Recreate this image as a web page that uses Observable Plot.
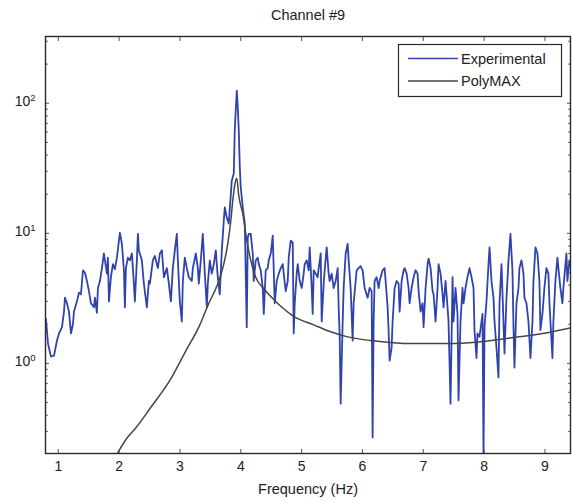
<!DOCTYPE html>
<html><head><meta charset="utf-8">
<script src="https://cdn.jsdelivr.net/npm/d3@7"></script>
<script src="https://cdn.jsdelivr.net/npm/@observablehq/plot@0.6"></script>
<style>
html,body{margin:0;padding:0;background:#fff;}
#chart{width:572px;height:502px;}
</style></head><body><div id="chart"></div>
<script>
const title = "Channel #9";
const xLabel = "Frequency (Hz)";
const seriesNames = ["Experimental", "PolyMAX"];
const xTicks = [1, 2, 3, 4, 5, 6, 7, 8, 9];
const yMajorTicks = [1, 10, 100];
const yMinorTicks = [0.3,0.4,0.5,0.6,0.7,0.8,0.9,2,3,4,5,6,7,8,9,20,30,40,50,60,70,80,90,200,300];
const xDomain = [0.79, 9.42];
const yDomain = [0.203, 326];

// [frequency Hz, amplitude]
const experimental = [[0.798,2.2],[0.831,1.42],[0.880,1.13],[0.930,1.15],[0.979,1.5],[1.012,1.7],[1.061,1.9],[1.094,2.5],[1.110,3.2],[1.143,2.9],[1.176,2.5],[1.209,1.7],[1.241,2.0],[1.258,2.5],[1.307,3.0],[1.340,3.5],[1.373,3.4],[1.406,5.2],[1.438,5.0],[1.471,4.3],[1.504,3.6],[1.537,2.9],[1.586,2.7],[1.603,3.2],[1.635,2.45],[1.652,3.8],[1.685,4.3],[1.718,5.4],[1.750,7.0],[1.767,6.2],[1.800,4.9],[1.816,6.5],[1.833,3.0],[1.865,4.6],[1.898,5.8],[1.931,5.3],[1.964,6.5],[1.997,8.8],[2.013,10.1],[2.046,8.3],[2.079,5.2],[2.095,2.7],[2.112,5.4],[2.144,6.5],[2.177,6.2],[2.210,7.0],[2.243,4.1],[2.259,3.0],[2.292,6.2],[2.309,9.9],[2.325,7.4],[2.374,6.2],[2.407,4.1],[2.456,2.7],[2.489,4.3],[2.506,4.1],[2.555,6.2],[2.588,6.7],[2.637,5.4],[2.670,7.0],[2.703,7.4],[2.736,4.6],[2.785,5.4],[2.818,4.1],[2.851,3.0],[2.883,5.4],[2.916,7.4],[2.949,9.9],[2.966,6.2],[2.998,3.0],[3.031,2.1],[3.048,4.3],[3.080,6.5],[3.113,5.4],[3.146,4.6],[3.195,4.3],[3.212,5.4],[3.261,7.0],[3.294,5.4],[3.310,4.1],[3.343,6.2],[3.376,9.9],[3.409,4.9],[3.442,2.7],[3.458,4.1],[3.491,6.2],[3.524,4.9],[3.557,5.8],[3.589,7.4],[3.622,4.6],[3.655,3.4],[3.688,7.4],[3.721,12.5],[3.737,15.8],[3.770,13.2],[3.803,11.9],[3.852,25.4],[3.885,28.8],[3.901,61.7],[3.934,125],[3.951,92.7],[3.967,61.7],[3.984,32],[4.000,22.5],[4.033,15.8],[4.066,11.9],[4.098,1.9],[4.115,9.3],[4.131,9.9],[4.164,9.9],[4.197,7.0],[4.213,4.3],[4.246,6.2],[4.279,6.5],[4.296,5.8],[4.328,5.2],[4.361,3.8],[4.378,2.4],[4.410,5.2],[4.443,5.4],[4.460,6.2],[4.493,7.0],[4.525,9.6],[4.542,5.2],[4.558,2.9],[4.591,4.3],[4.624,4.9],[4.657,5.4],[4.690,5.8],[4.706,4.9],[4.739,3.6],[4.772,4.3],[4.788,6.5],[4.821,8.8],[4.854,8.5],[4.870,1.7],[4.887,2.9],[4.919,4.9],[4.936,5.8],[4.969,4.3],[5.002,3.8],[5.034,4.9],[5.051,5.8],[5.084,6.2],[5.117,5.2],[5.133,7.8],[5.166,3.8],[5.182,2.4],[5.199,5.2],[5.232,4.9],[5.264,4.6],[5.281,5.4],[5.314,7.0],[5.330,2.1],[5.363,4.1],[5.379,5.2],[5.412,7.8],[5.445,4.9],[5.461,4.3],[5.494,4.9],[5.527,3.8],[5.560,4.3],[5.593,5.4],[5.609,2.7],[5.626,1.6],[5.642,0.49],[5.675,2.1],[5.691,3.8],[5.724,7.0],[5.757,8.3],[5.773,6.2],[5.806,3.8],[5.839,1.5],[5.855,2.9],[5.905,5.2],[5.937,5.4],[5.970,5.6],[6.003,5.2],[6.036,3.8],[6.085,3.2],[6.118,3.8],[6.151,3.6],[6.167,0.27],[6.184,2.1],[6.200,4.3],[6.233,4.6],[6.266,3.8],[6.282,4.3],[6.332,5.2],[6.364,5.4],[6.381,4.3],[6.414,2.7],[6.430,1.8],[6.447,1.05],[6.479,1.32],[6.496,2.1],[6.529,3.8],[6.562,4.3],[6.595,4.1],[6.611,2.5],[6.644,4.3],[6.677,5.2],[6.693,5.4],[6.726,4.9],[6.759,3.8],[6.775,2.9],[6.808,3.8],[6.841,4.6],[6.873,5.2],[6.906,4.9],[6.923,3.6],[6.956,2.5],[6.988,2.9],[7.005,1.9],[7.038,3.8],[7.071,5.8],[7.087,6.4],[7.120,5.4],[7.153,3.6],[7.169,3.4],[7.202,2.1],[7.235,3.8],[7.251,5.8],[7.284,4.9],[7.317,3.4],[7.333,2.7],[7.366,4.3],[7.399,2.7],[7.415,2.1],[7.448,0.49],[7.481,4.6],[7.497,2.1],[7.530,3.8],[7.563,2.4],[7.579,0.52],[7.612,2.1],[7.645,3.8],[7.662,2.9],[7.694,3.8],[7.727,4.6],[7.760,5.4],[7.793,4.6],[7.826,3.8],[7.842,1.8],[7.875,1.1],[7.891,1.7],[7.924,1.6],[7.957,2.1],[7.974,2.4],[7.990,0.19],[8.007,1.9],[8.039,3.0],[8.072,5.8],[8.089,7.8],[8.121,4.3],[8.154,3.2],[8.171,2.1],[8.203,1.32],[8.236,0.78],[8.253,2.9],[8.286,5.8],[8.318,2.1],[8.335,1.19],[8.368,3.2],[8.401,6.2],[8.433,9.9],[8.466,5.2],[8.483,1.9],[8.499,0.93],[8.532,2.9],[8.565,3.8],[8.581,5.4],[8.614,6.2],[8.647,4.9],[8.663,3.2],[8.696,2.9],[8.729,2.1],[8.762,1.1],[8.795,2.1],[8.811,4.3],[8.844,7.8],[8.877,7.0],[8.909,4.3],[8.926,1.8],[8.959,2.4],[8.991,3.8],[9.024,5.4],[9.057,4.9],[9.074,2.9],[9.123,1.1],[9.139,2.1],[9.172,4.3],[9.205,6.5],[9.221,5.4],[9.254,3.8],[9.287,2.9],[9.303,3.8],[9.353,7.0],[9.369,4.3],[9.402,6.2],[9.435,5.2]];

// [frequency Hz, amplitude]
const polymax = [[1.964,0.2],[2.112,0.26],[2.276,0.32],[2.522,0.46],[2.834,0.74],[3.097,1.25],[3.310,1.9],[3.475,2.9],[3.622,4.1],[3.704,5.4],[3.786,8.3],[3.836,12.5],[3.869,17.9],[3.901,23.5],[3.934,26.5],[3.967,19.5],[4.000,16.3],[4.033,14.2],[4.082,9.9],[4.164,6.2],[4.246,4.6],[4.378,3.75],[4.542,3.1],[4.657,2.75],[4.870,2.3],[5.199,1.98],[5.478,1.75],[5.757,1.6],[6.134,1.5],[6.841,1.42],[7.448,1.42],[7.941,1.47],[8.483,1.58],[9.041,1.72],[9.435,1.88]];

const expColor = "#3043ad";
const polyColor = "#454545";
const axisColor = "#2a2a2a";
const font = '"Liberation Sans", Arial, Helvetica, sans-serif';

const expData = experimental.map(([f, a]) => ({f, a}));
const polyData = polymax.map(([f, a]) => ({f, a}));

const chart = Plot.plot({
  width: 572, height: 502,
  marginLeft: 45, marginRight: 2, marginTop: 36, marginBottom: 49,
  style: {fontFamily: font, fontSize: "14px", color: "#222", background: "#fff"},
  x: {domain: xDomain},
  y: {type: "log", domain: yDomain},
  marks: [
    Plot.line(expData, {x: "f", y: "a", stroke: expColor, strokeWidth: 1.8, clip: true}),
    Plot.line(polyData, {x: "f", y: "a", stroke: polyColor, strokeWidth: 1.5, curve: "monotone-x", clip: true}),
    Plot.axisX(xTicks, {anchor: "bottom", tickSize: -4, fill: "none", stroke: "#555", label: null}),
    Plot.axisX(xTicks, {anchor: "top", tickSize: -4, fill: "none", stroke: "#555", label: null}),
    Plot.axisX(xTicks, {anchor: "bottom", tickSize: 0, tickPadding: 8, fill: "#222", fontSize: 14, label: null, tickFormat: d => String(d)}),
    Plot.axisY(yMajorTicks, {anchor: "left", tickSize: -4, fill: "none", stroke: "#555", label: null}),
    Plot.axisY(yMajorTicks, {anchor: "right", tickSize: -4, fill: "none", stroke: "#555", label: null}),
    Plot.axisY(yMinorTicks, {anchor: "left", tickSize: -3, fill: "none", stroke: "#666", label: null}),
    Plot.axisY(yMinorTicks, {anchor: "right", tickSize: -3, fill: "none", stroke: "#666", label: null}),
    Plot.axisY(yMajorTicks, {anchor: "left", tickSize: 0, tickPadding: 10, dy: -2, fill: "#222", fontSize: 14, label: null,
      tickFormat: d => "10^" + Math.round(Math.log10(d))}),
    Plot.frame({stroke: axisColor, strokeWidth: 1.4}),
    Plot.text([title], {frameAnchor: "top", lineAnchor: "middle", dy: -21, fontSize: 14.5, fill: "#222"}),
    Plot.text([xLabel], {frameAnchor: "bottom", lineAnchor: "middle", dy: 36, fontSize: 14.5, fill: "#222"})
  ]
});

document.getElementById("chart").appendChild(chart);
const svg = d3.select(chart);

// superscript exponents on y tick labels
svg.selectAll('g[aria-label="y-axis tick label"] text').each(function () {
  const t = d3.select(this);
  const s = t.text();
  if (!s.includes("^")) return;
  const [base, exp] = s.split("^");
  t.text(null);
  t.append("tspan").text(base);
  t.append("tspan").attr("dy", "-0.5em").attr("font-size", "9.5px").text(exp);
});

// legend box
const lg = svg.append("g").attr("font-family", font).attr("font-size", 14.5).attr("fill", "#222").attr("text-anchor", "start");
lg.append("rect").attr("x", 398.5).attr("y", 44.5).attr("width", 163).attr("height", 52)
  .attr("fill", "#fff").attr("stroke", axisColor).attr("stroke-width", 1.2);
const legendColors = [expColor, polyColor];
seriesNames.forEach((name, i) => {
  const y = 58.5 + i * 22.5;
  lg.append("line").attr("x1", 408).attr("x2", 458).attr("y1", y).attr("y2", y)
    .attr("stroke", legendColors[i]).attr("stroke-width", 1.5);
  lg.append("text").attr("x", 461).attr("y", y).attr("dy", "0.35em").attr("text-anchor", "start").text(name);
});
</script>
</body></html>
